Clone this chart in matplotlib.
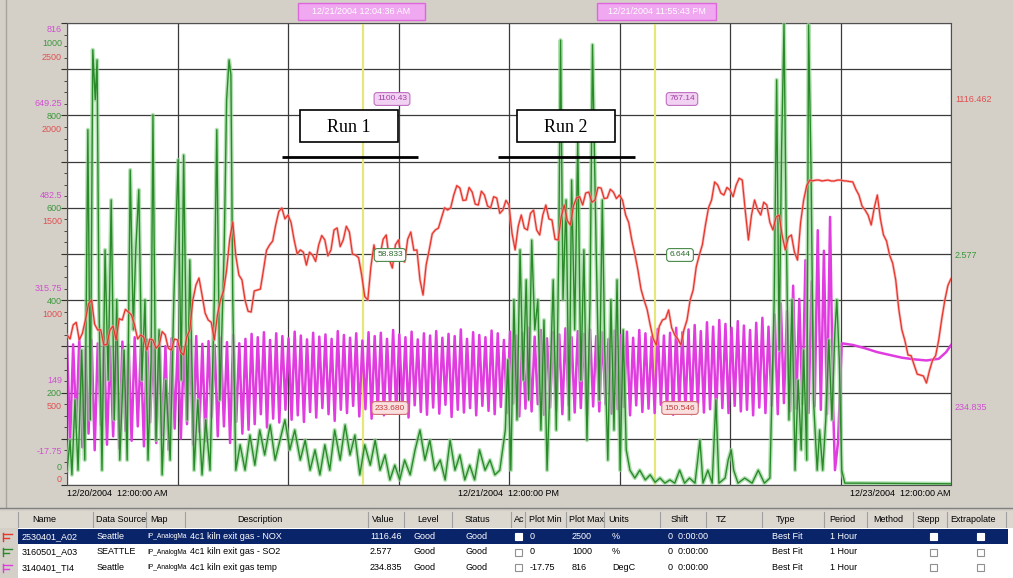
import datetime as dt
import matplotlib
matplotlib.use("Agg")
import matplotlib.pyplot as plt
from matplotlib.patches import Rectangle
from matplotlib.transforms import Bbox, TransformedBbox
import numpy as np

plt.rcParams['font.family'] = ['Liberation Sans', 'DejaVu Sans']

# trend window
start = dt.datetime(2004, 12, 20, 0, 0, 0)
span_hours = 72
cursors = [dt.datetime(2004, 12, 21, 0, 4, 36), dt.datetime(2004, 12, 21, 23, 55, 43)]

# plot min / plot max of each trace
red_lim = (0, 2500)
green_lim = (0, 1000)
mag_lim = (-17.75, 816)

tag_names = ["2530401_A02", "3160501_A03", "3140401_TI4"]
sources = ["Seattle", "SEATTLE", "Seattle"]
descriptions = ["4c1 kiln exit gas - NOX", "4c1 kiln exit gas - SO2", "4c1 kiln exit gas temp"]
units = ["%", "%", "DegC"]

# kiln exit gas NOX, quarter-hour samples
red_v = [812, 790, 866, 880, 785, 820, 893, 980, 1001, 870, 839, 840, 758, 760, 839, 860,
         785, 900, 893, 950, 936, 920, 866, 790, 812, 800, 730, 790, 785, 740, 758, 830,
         812, 740, 730, 790, 785, 720, 703, 800, 839, 1000, 1082, 1120, 1028, 930, 893, 880,
         785, 920, 1001, 1050, 1163, 1330, 1423, 1240, 1136, 1110, 1001, 940, 936, 1050,
         1055, 1060, 1163, 1270, 1299, 1320, 1407, 1480, 1499, 1440, 1461, 1420, 1326, 1250,
         1272, 1260, 1190, 1260, 1244, 1210, 1299, 1350, 1326, 1240, 1272, 1380, 1391, 1290,
         1326, 1400, 1369, 1250, 1244, 1230, 1136, 1020, 1001, 1180, 1299, 1210, 1244, 1330,
         1353, 1220, 1174, 1300, 1326, 1220, 1207, 1330, 1369, 1270, 1272, 1110, 1028, 1190,
         1272, 1360, 1380, 1390, 1445, 1500, 1488, 1500, 1569, 1620, 1607, 1540, 1542, 1610,
         1585, 1520, 1515, 1590, 1569, 1510, 1499, 1560, 1553, 1470, 1488, 1540, 1515, 1360,
         1272, 1400, 1461, 1390, 1380, 1470, 1488, 1380, 1353, 1460, 1515, 1440, 1434, 1330,
         1326, 1450, 1515, 1430, 1407, 1510, 1553, 1560, 1515, 1580, 1585, 1530, 1542, 1610,
         1607, 1550, 1553, 1600, 1585, 1550, 1569, 1540, 1461, 1420, 1326, 1250, 1163, 1060,
         1001, 950, 866, 790, 758, 860, 893, 900, 947, 850, 812, 790, 758, 840, 893, 1000,
         1055, 1180, 1244, 1300, 1407, 1500, 1542, 1640, 1623, 1580, 1569, 1610, 1596, 1560,
         1623, 1660, 1650, 1480, 1326, 1460, 1542, 1490, 1461, 1530, 1515, 1420, 1380, 1450,
         1461, 1350, 1272, 1340, 1353, 1260, 1217, 1420, 1542, 1620, 1650, 1646, 1650, 1650,
         1645, 1648, 1650, 1645, 1645, 1650, 1650, 1646, 1645, 1642, 1640, 1600, 1569, 1510,
         1488, 1460, 1407, 1500, 1569, 1440, 1353, 1320, 1244, 1200, 1109, 950, 839, 780,
         703, 700, 649, 600, 595, 590, 552, 620, 676, 700, 785, 900, 1001, 1080, 1116.462]

# kiln exit gas SO2 (hours, value)
green_t = [0, 0.25, 0.4, 0.65, 0.9, 1.2, 1.45, 1.7, 1.9, 2.1, 2.3, 2.45, 2.6, 2.85, 3.1,
           3.35, 3.6, 3.85, 4.05, 4.3, 4.65, 4.9, 5.15, 5.4, 5.6, 5.85, 6.1, 6.35, 6.6, 6.85,
           7.0, 7.25, 7.5, 7.75, 8.05, 8.4, 8.7, 9.05, 9.3, 9.5, 9.8, 10.0, 10.35, 10.65, 11.0,
           11.3, 11.65, 12.0, 12.2, 12.45, 12.8, 13.0, 13.2, 13.35, 13.5, 13.75,
           14.1, 14.5, 14.9, 15.3, 15.7, 16.1, 16.55, 16.95, 17.35, 17.75, 18.15, 18.55, 19.0,
           19.4, 19.8, 20.2, 20.6, 21.0, 21.4, 21.8, 22.25, 22.65, 23.05, 23.45, 23.85, 24.25,
           24.7, 25.1, 25.5, 25.9, 26.3, 26.7, 27.1, 27.5, 27.95, 28.35, 28.75, 29.15, 29.55,
           29.95, 30.4, 30.8, 31.2, 31.6, 32.0, 32.4, 32.8, 33.2, 33.6, 34.05, 34.45, 34.85,
           35.25, 35.7, 35.9, 36.15, 36.4, 36.65, 36.9, 37.15, 37.4, 37.6, 37.85, 38.1, 38.35,
           38.6, 38.85, 39.1, 39.35, 39.6, 39.85, 40.05, 40.2, 40.4, 40.65, 40.9, 41.1, 41.35,
           41.6, 41.85, 42.1, 42.35, 42.6, 42.8, 43.1, 43.35, 43.6, 43.8, 44.05, 44.3, 44.55,
           44.8, 45.05, 45.3, 45.55, 45.85, 46.25, 46.65, 47.1, 47.5, 47.9, 48.3, 48.7, 49.1,
           49.5, 49.9, 50.3, 50.7, 51.15, 51.55, 51.8, 52.2, 52.55, 52.85, 53.1, 53.6, 53.85,
           54.1, 54.3, 54.65, 55.2, 55.8, 56.3, 56.8, 57.25, 57.6, 57.8, 58.0, 58.2, 58.4,
           58.55, 58.8, 59.05, 59.3, 59.55, 59.8, 60.0, 60.25, 60.4, 60.6, 60.8, 61.1, 61.3,
           61.55, 61.8, 62.05, 62.3, 62.55, 62.7, 62.9, 63.1, 63.35, 64.6, 72]
green_v = [32, 97, 22, 184, 32, 292, 54, 769, 141, 942, 834, 920, 401, 32, 509,
           227, 617, 141, 401, 54, 292, 54, 682, 336, 509, 639, 227, 401, 54, 271,
           801, 97, 336, 22, 227, 54, 401, 704, 227, 714, 141, 487, 32, 184, 22,
           141, 32, 401, 769, 184, 509, 834, 920, 888, 401, 32,
           87, 32, 108, 43, 119, 65, 130, 54, 97, 141, 76, 119, 54,
           97, 32, 76, 22, 87, 32, 119, 54, 130, 65, 108, 22, 87,
           43, 97, 32, 65, 11, 43, 11, 54, 22, 76, 119, 54, 97,
           32, 54, 11, 97, 32, 65, 11, 43, 11, 76, 32, 54, 22,
           32, 119, 271, 32, 401, 141, 509, 227, 444, 184, 530, 336, 401,
           119, 357, 32, 227, 444, 119, 509, 963, 401, 617, 141, 660, 336,
           747, 227, 509, 97, 401, 953, 509, 184, 617, 292, 54, 401, 119,
           444, 32, 336, 76, 32, 15, 32, 11, 22, 6, 15, 4, 11,
           4, 32, 4, 15, 4, 97, 4, 32, 4, 184, 4, 15, 54,
           76, 32, 4, 15, 4, 32, 4, 15, 401, 877, 292, 725, 998,
           617, 141, 401, 32, 227, 76, 292, 54, 996, 682, 184, 32, 119,
           32, 141, 314, 141, 336, 401, 271, 32, 4, 4, 2.577]

# kiln exit gas temperature, fast cycling part
mag_v = [240, 60, 236, 85, 248, 50, 230, 75, 244, 45, 238, 90, 250, 55, 232, 70, 246, 48, 241, 80,
         236, 62, 249, 88, 228, 52, 245, 95, 239, 58, 252, 72, 233, 46, 247, 84, 240, 66, 230, 92,
         244, 55, 251, 78, 237, 61, 242, 104, 235, 70, 248, 88, 240, 58, 253, 96, 238, 75, 246, 82,
         255, 92, 249, 110, 258, 86, 244, 102, 256, 95, 251, 118, 247, 100, 259, 108, 252, 96, 245, 114,
         257, 104, 250, 121, 254, 110, 246, 98, 260, 118, 253, 112, 248, 125, 256, 106, 243, 119, 258, 102,
         251, 116, 257, 108, 246, 124, 262, 112, 254, 120, 249, 104, 259, 126, 245, 114, 256, 109, 252, 122,
         260, 111, 248, 127, 255, 105, 251, 118, 263, 113, 246, 121, 258, 108, 253, 125, 249, 116, 261, 110,
         256, 123, 244, 112, 259, 129, 252, 106, 257, 120, 266, 115, 250, 128, 262, 109, 247, 122, 258, 117,
         254, 110, 265, 126, 249, 113, 260, 121, 255, 107, 263, 124, 251, 115, 258, 128, 246, 111, 261, 119,
         253, 123, 259, 108, 248, 126, 262, 114, 256, 120, 250, 112, 264, 127, 252, 116, 257, 109, 266, 122,
         258, 118, 263, 110, 271, 124, 260, 113, 276, 119, 268, 106, 280, 121, 273, 112, 266, 125, 278, 115,
         270, 118, 262, 108, 275, 122, 284, 112, 268, 125, 290, 110, 310, 130, 296, 115, 342, 120, 318, 128,
         388, 112, 350, 124, 442, 118, 405, 110, 466, 122]
# temperature after the kiln trips
mag_tail_t = [62.55, 62.8, 63.1, 64, 65, 66, 67, 68, 69, 70, 71, 71.6, 72]
mag_tail_v = [9, 60, 238, 235, 229, 222, 217, 212, 209, 207, 210, 222, 234.835]

red_t = np.linspace(0, span_hours, len(red_v))
mag_t = np.concatenate([np.linspace(0, 62.4, len(mag_v)), mag_tail_t])
mag_all = np.concatenate([mag_v, mag_tail_v])
cur_h = [(c - start).total_seconds() / 3600 for c in cursors]

RED, GREEN, MAG = '#e8352a', '#2a8a2a', '#e03ce0'
RED_T, GREEN_T, MAG_T = '#e05050', '#3c963c', '#d050d0'

fig = plt.figure(figsize=(10.13, 5.78), dpi=100, facecolor='#d4d0c8')
ax = fig.add_axes([67 / 1013, 1 - 485 / 578, 884 / 1013, 462 / 578])
ax.set_facecolor('white')
ax.set_xlim(0, span_hours)
ax.set_ylim(*mag_lim)
ax.set_xticks(np.arange(0, span_hours + 1, 9))
ax.set_yticks(np.linspace(*mag_lim, 11))
ax.set_yticks(np.linspace(*mag_lim, 41), minor=True)
ax.grid(True, which='major', color='#3a3a3a', lw=0.9)
ax.tick_params(axis='x', length=0, labelbottom=False)
ax.tick_params(axis='y', which='major', length=4, color='#303030', labelleft=False)
ax.tick_params(axis='y', which='minor', length=2.5, color='#303030')
for s in ax.spines.values():
    s.set_color('#505050')

for h in cur_h:
    ax.axvline(h, color='#e6e67a', lw=1.6, zorder=1.8)
ax.plot(mag_t, mag_all, color=MAG, lw=1.8, zorder=2)

ax_g = ax.twinx()
ax_g.set_ylim(*green_lim)
ax_g.set_axis_off()
ax_g.plot(green_t, green_v, color='#95d595', lw=3.0, alpha=0.7)
ax_g.plot(green_t, green_v, color=GREEN, lw=1.0)

ax_r = ax.twinx()
ax_r.set_ylim(*red_lim)
ax_r.set_axis_off()
ax_r.plot(red_t, red_v, color='#f4a0a0', lw=2.0, alpha=0.7)
ax_r.plot(red_t, red_v, color=RED, lw=0.9)

# overlay in pixel units for labels, annotations and the trace table
ov = fig.add_axes([0, 0, 1, 1], zorder=5)
ov.set_xlim(0, 1013)
ov.set_ylim(578, 0)
ov.axis('off')
fs = 6.5

# stacked scale labels on the left
for f in np.linspace(0, 1, 6):
    py = 485 - f * 462
    if f == 1:
        offs = (7, 20, 34)
    elif f == 0:
        offs = (-33, -18, -6)
    else:
        offs = (-12, 1, 14)
    for (lo, hi), col, o in zip((mag_lim, green_lim, red_lim), (MAG_T, GREEN_T, RED_T), offs):
        ov.text(62, py + o, f"{lo + f * (hi - lo):g}", color=col, fontsize=fs,
                ha='right', va='center')

# current values on the right
ov.text(955, 99, f"{red_v[-1]:.3f}", color=RED_T, fontsize=fs, va='center')
ov.text(955, 255, f"{green_v[-1]:.3f}", color=GREEN_T, fontsize=fs, va='center')
ov.text(955, 407, f"{mag_tail_v[-1]:.3f}", color=MAG_T, fontsize=fs, va='center')

# time axis labels
fmt = "%m/%d/%Y  %I:%M:%S %p"
ov.text(67, 494, start.strftime(fmt), fontsize=fs, ha='left', va='center')
ov.text(509, 494, (start + dt.timedelta(hours=span_hours / 2)).strftime(fmt),
        fontsize=fs, ha='center', va='center')
ov.text(951, 494, (start + dt.timedelta(hours=span_hours)).strftime(fmt),
        fontsize=fs, ha='right', va='center')

# cursor time stamps
for c, (x0, x1) in zip(cursors, [(298, 425), (597, 716)]):
    ov.add_patch(Rectangle((x0, 3), x1 - x0, 17, fc='#f0a8f0', ec='#dd66dd', lw=1))
    ov.text((x0 + x1) / 2, 11.5, c.strftime("%m/%d/%Y %I:%M:%S %p"), color='white',
            fontsize=fs, ha='center', va='center')

# cursor value tags
for h, xc in zip(cur_h, (392, 682)):
    r = np.interp(h, red_t, red_v)
    g = np.interp(h, green_t, green_v)
    m = np.interp(h, mag_t, mag_all)
    ov.text(xc, 99, f"{r:.2f}", color='#a040a0', fontsize=6, ha='center', va='center',
            bbox=dict(boxstyle='round,pad=0.35', fc='#f2d2f2', ec='#c070c0', lw=0.8))
    ov.text(xc - 2, 255, f"{g:.3f}", color='#2a6a2a', fontsize=6, ha='center', va='center',
            bbox=dict(boxstyle='round,pad=0.35', fc='white', ec='#4a8a4a', lw=0.8))
    ov.text(xc - 2, 408, f"{m:.3f}", color='#c04040', fontsize=6, ha='center', va='center',
            bbox=dict(boxstyle='round,pad=0.35', fc='#fbe0e0', ec='#d07070', lw=0.8))

# run markers
for label, x0, ux in [("Run 1", 300, (282, 418)), ("Run 2", 517, (498, 635))]:
    ov.add_patch(Rectangle((x0, 110), 98, 32, fc='white', ec='black', lw=1.2))
    ov.text(x0 + 49, 127, label, family='Liberation Serif', fontsize=13,
            ha='center', va='center')
    ov.plot(ux, [157, 157], color='black', lw=2, solid_capstyle='butt')

# trace table
ov.plot([6, 6], [0, 507], color='#a8a49c', lw=1)
ov.plot([0, 1013], [508, 508], color='#808080', lw=1)
ov.add_patch(Rectangle((0, 511), 1013, 17, fc='#dcd8d0', ec='none'))
ov.add_patch(Rectangle((18, 528), 995, 50, fc='white', ec='none'))
ov.add_patch(Rectangle((18, 529), 990, 15, fc='#0a246a', ec='none'))

headers = [("Name", 32), ("Data Source", 96), ("Map", 150), ("Description", 237),
           ("Value", 372), ("Level", 417), ("Status", 465), ("Ac", 514), ("Plot Min", 529),
           ("Plot Max", 569), ("Units", 608), ("Shift", 671), ("TZ", 716), ("Type", 776),
           ("Period", 829), ("Method", 873), ("Stepp", 917), ("Extrapolate", 950)]
for name, x in headers:
    ov.text(x, 520, name, fontsize=fs, va='center')
for x in [18, 93, 146, 185, 368, 404, 452, 511, 525, 566, 604, 660, 706, 762, 824, 867, 913,
          947, 1006]:
    ov.plot([x, x], [512, 527], color='#a0a0a0', lw=0.8)


def cell_text(s, x, y, x_end, color, size=fs):
    t = ov.text(x, y, s, color=color, fontsize=size, va='center')
    t.set_clip_box(TransformedBbox(Bbox([[x - 2, y - 8], [x_end, y + 8]]), ov.transData))
    t.set_clip_on(True)


values = [f"{red_v[-1]:.2f}", f"{green_v[-1]:.3f}", f"{mag_tail_v[-1]:.3f}"]
lims = [red_lim, green_lim, mag_lim]
pens = [RED, GREEN, MAG]
for i in range(3):
    yc = 536.5 + i * 15.5
    tc = 'white' if i == 0 else 'black'
    lo, hi = lims[i]
    cells = [(tag_names[i], 22, 92), (sources[i], 97, 145),
             (descriptions[i], 190, 366), (values[i], 370, 404), ("Good", 414, 450),
             ("Good", 466, 510), (f"{lo:g}", 530, 566), (f"{hi:g}", 572, 604),
             (units[i], 612, 660), ("0  0:00:00", 668, 760), ("Best Fit", 772, 824),
             ("1 Hour", 830, 867)]
    for s, x, xe in cells:
        cell_text(s, x, yc, xe, tc)
    cell_text("IP_AnalogMap", 147, yc, 187, tc, size=4.8)
    for bx in (515, 930, 977):
        ov.add_patch(Rectangle((bx, yc - 3.5), 7, 7, fc='white',
                               ec='white' if i == 0 else '#909090', lw=0.8))
    c = pens[i]
    ov.plot([3, 12], [yc - 3, yc - 3], color=c, lw=1)
    ov.plot([3, 3], [yc - 4, yc + 4], color=c, lw=1)
    ov.plot([3, 9], [yc + 1, yc + 1], color=c, lw=1)

fig.savefig("out.png", dpi=100, facecolor=fig.get_facecolor())
